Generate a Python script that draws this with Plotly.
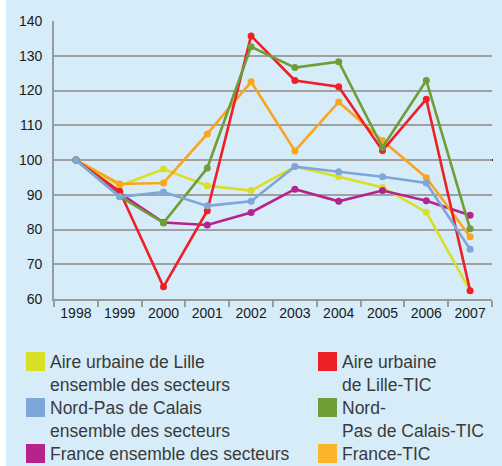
import plotly.graph_objects as go

years = ["1998", "1999", "2000", "2001", "2002", "2003", "2004", "2005", "2006", "2007"]
lille_ens = [100, 92.6, 97.4, 92.6, 91.2, 98.1, 95.2, 92.1, 85.0, 62.4]
lille_tic = [100, 91.0, 63.5, 85.4, 135.7, 122.9, 121.1, 102.7, 117.5, 62.4]
npdc_ens = [100, 89.4, 90.8, 86.8, 88.1, 98.1, 96.6, 95.2, 93.4, 74.3]
npdc_tic = [100, 89.5, 81.9, 97.7, 132.6, 126.6, 128.3, 103.6, 122.9, 80.2]
france_ens = [100, 90.5, 82.0, 81.3, 84.9, 91.6, 88.1, 91.2, 88.3, 84.1]
france_tic = [100, 93.1, 93.4, 107.5, 122.5, 102.6, 116.7, 105.6, 94.9, 77.9]
y_ticks = [60, 70, 80, 90, 100, 110, 120, 130, 140]

names = {
    "lille_ens": ["Aire urbaine de Lille", "ensemble des secteurs"],
    "lille_tic": ["Aire urbaine", "de Lille-TIC"],
    "npdc_ens": ["Nord-Pas de Calais", "ensemble des secteurs"],
    "npdc_tic": ["Nord-", "Pas de Calais-TIC"],
    "france_ens": ["France ensemble des secteurs"],
    "france_tic": ["France-TIC"],
}
colors = {
    "lille_ens": "#d9df27",
    "lille_tic": "#ee1f26",
    "npdc_ens": "#7ea6d8",
    "npdc_tic": "#6f9e36",
    "france_ens": "#b7228d",
    "france_tic": "#f9a51e",
}
legend_colors = dict(colors, france_tic="#fbb52a")
data = {
    "lille_ens": lille_ens, "lille_tic": lille_tic, "npdc_ens": npdc_ens,
    "npdc_tic": npdc_tic, "france_ens": france_ens, "france_tic": france_tic,
}

W, H = 502, 466
L, R, T, B = 54, 10, 21, 167
PW, PH = W - L - R, H - T - B
BG = "#d6ecf8"

def px(x):
    return (x - L) / PW

def py(y):
    return (H - B - y) / PH

fig = go.Figure()
for key in ["lille_ens", "france_ens", "france_tic", "lille_tic", "npdc_tic", "npdc_ens"]:
    fig.add_trace(go.Scatter(
        x=years, y=data[key], mode="lines+markers",
        line=dict(color=colors[key], width=2.6),
        marker=dict(color=colors[key], size=7),
        name=" ".join(names[key]), showlegend=False,
    ))

shapes = [
    dict(type="rect", xref="paper", yref="paper", x0=px(0), x1=px(6), y0=py(H), y1=py(0),
         fillcolor="white", line=dict(width=0), layer="below"),
    dict(type="line", xref="paper", yref="y", x0=0, x1=1.002, y0=100, y1=100,
         line=dict(color="#111111", width=1.8), layer="below"),
]
annotations = []
legend_layout = [
    ("lille_ens", 26, 352), ("npdc_ens", 26, 398), ("france_ens", 26, 444),
    ("lille_tic", 318, 352), ("npdc_tic", 318, 398), ("france_tic", 318, 444),
]
for key, x0, y0 in legend_layout:
    shapes.append(dict(type="rect", xref="paper", yref="paper",
                       x0=px(x0), x1=px(x0 + 19), y0=py(y0 + 19), y1=py(y0),
                       fillcolor=legend_colors[key], line=dict(width=0)))
    for i, line in enumerate(names[key]):
        annotations.append(dict(
            xref="paper", yref="paper", x=px(x0 + 22), y=py(y0 + 10 + 23.2 * i),
            xanchor="left", yanchor="middle", text=line, showarrow=False,
            font=dict(family="Liberation Sans, Arial, sans-serif", size=17.5, color="#3a3a3a"),
        ))

fig.update_layout(
    width=W, height=H,
    margin=dict(l=L, r=R, t=T, b=B, pad=0),
    paper_bgcolor=BG, plot_bgcolor=BG,
    showlegend=False,
    shapes=shapes, annotations=annotations,
    font=dict(family="Liberation Sans, Arial, sans-serif", size=14, color="#1e1e1e"),
)
fig.update_xaxes(
    type="category", categoryorder="array", categoryarray=years,
    range=[-0.5, 9.5], showgrid=False,
    showline=True, linecolor="#9a9a9a", linewidth=1.8,
    ticks="outside", tickson="boundaries", ticklen=6, tickcolor="#9a9a9a", tickwidth=1.8,
    tickfont=dict(size=14, color="#1a1a1a"),
)
fig.update_yaxes(
    range=[60, 140], tickvals=y_ticks, showgrid=True,
    gridcolor="#a0a0a0", gridwidth=1.8,
    showline=True, linecolor="#9a9a9a", linewidth=1.8,
    zeroline=False, ticks="", ticklabelstandoff=7,
    tickfont=dict(size=14, color="#1a1a1a"),
)
fig.write_html(
    "out.html",
    config={"displayModeBar": False},
    post_script="document.body.style.margin='0px';document.body.style.padding='0px';",
)
